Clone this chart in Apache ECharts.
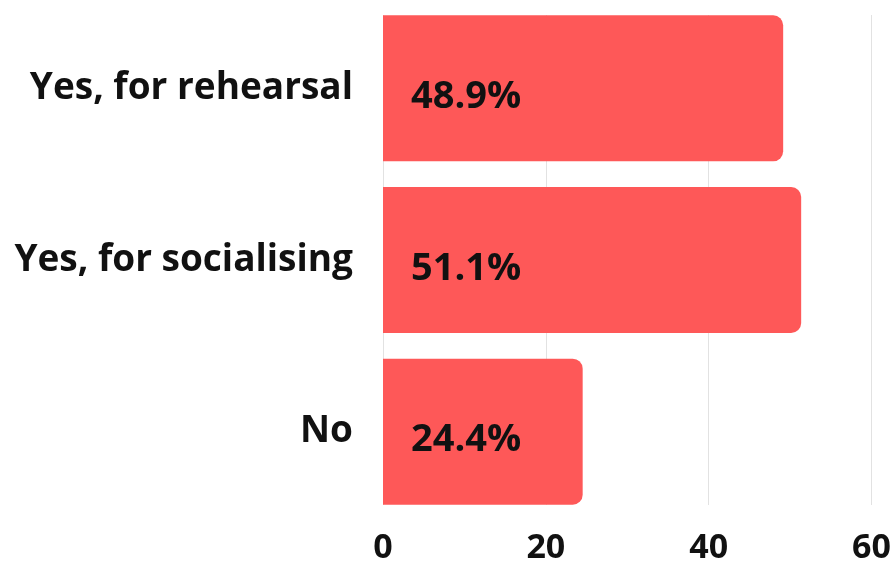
<!DOCTYPE html>
<html>
<head>
<meta charset="utf-8">
<script src="https://cdn.jsdelivr.net/npm/echarts@6/dist/echarts.min.js"></script>
<style>html,body{margin:0;padding:0;background:#fff;}#c{width:894px;height:567px;}</style>
</head>
<body>
<div id="c"></div>
<script>
const categories = ['Yes, for rehearsal', 'Yes, for socialising', 'No'];
const values = [48.9, 51.1, 24.4];
const tickValues = [0, 20, 40, 60];

const chart = echarts.init(document.getElementById('c'), null, {renderer: 'canvas'});
const font = '"Open Sans", "Noto Sans", sans-serif';
chart.setOption({
  animation: false,
  backgroundColor: '#ffffff',
  grid: [
    {left: 383, right: 20, top: 15, height: 490},
    {left: 383, right: 20, top: 2.5, height: 515}
  ],
  xAxis: [
    {
      type: 'value', gridIndex: 0, min: tickValues[0], max: tickValues[tickValues.length - 1], interval: 20,
      axisLine: {show: false}, axisTick: {show: false},
      splitLine: {show: true, lineStyle: {color: '#e2e2e2', width: 1}},
      axisLabel: {show: true, margin: 26, color: '#111', fontFamily: font, fontWeight: 700, fontSize: 34}
    },
    {
      type: 'value', gridIndex: 1, min: tickValues[0], max: tickValues[tickValues.length - 1], interval: 20,
      axisLine: {show: false}, axisTick: {show: false}, splitLine: {show: false}, axisLabel: {show: false}
    }
  ],
  yAxis: [
    {
      type: 'category', gridIndex: 0, data: categories, inverse: true,
      axisLine: {show: false}, axisTick: {show: false}, axisLabel: {show: false}
    },
    {
      type: 'category', gridIndex: 1, data: categories, inverse: true,
      axisLine: {show: false}, axisTick: {show: false},
      axisLabel: {show: true, margin: 30, color: '#111', fontFamily: font, fontWeight: 700, fontSize: 37}
    }
  ],
  series: [{
    type: 'bar',
    xAxisIndex: 1, yAxisIndex: 1,
    data: values,
    barWidth: 146,
    itemStyle: {color: '#FE5858', borderRadius: [0, 10, 10, 0]},
    label: {
      show: true, position: 'insideLeft', distance: 0, offset: [28, 9],
      formatter: p => p.value.toFixed(1) + '%',
      color: '#111', fontFamily: font, fontWeight: 700, fontSize: 38
    }
  }]
});
</script>
</body>
</html>
